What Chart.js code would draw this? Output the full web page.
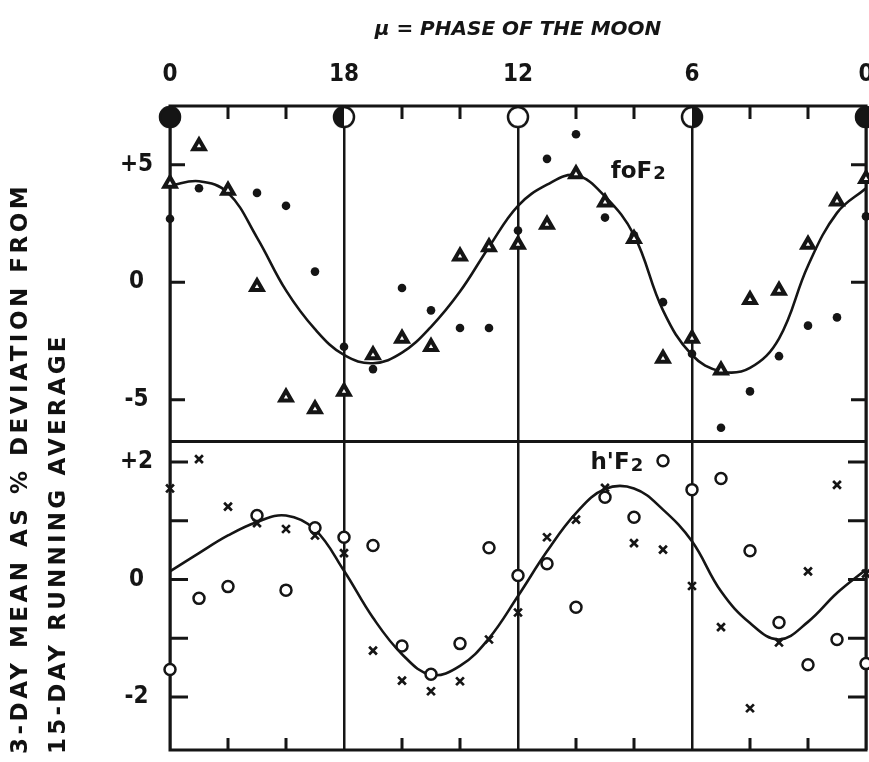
<!DOCTYPE html>
<html lang="en">
<head>
<meta charset="utf-8"/>
<title>foF2 and h'F2 against phase of the moon</title>
<script src="https://cdn.jsdelivr.net/npm/chart.js@4.4.1/dist/chart.umd.min.js"></script>
<style>
  html, body { margin: 0; padding: 0; background: #fff; }
  #wrap { position: relative; width: 869px; height: 762px; overflow: hidden; background: #fff; }
  #chart { position: absolute; left: 0; top: 0; }
  /* rotated axis caption, read bottom to top */
  .ylab {
    position: absolute;
    font-family: "DejaVu Sans", sans-serif;
    font-weight: bold;
    font-size: 23px;
    line-height: 1;
    color: #111;
    white-space: nowrap;
    transform-origin: left top;
    transform: rotate(-90deg);
  }
  #ylab1 { left: 8px; top: 754px; letter-spacing: 3.5px; }
  #ylab2 { left: 46px; top: 754px; letter-spacing: 3.2px; }
</style>
</head>
<body>
<div id="wrap">
  <canvas id="chart" width="890" height="762"></canvas>
  <div class="ylab" id="ylab1">3-DAY MEAN AS % DEVIATION FROM</div>
  <div class="ylab" id="ylab2">15-DAY RUNNING AVERAGE</div>
</div>
<script>
// position along the lunar cycle, left to right (labelled 0, 18, 12, 6, 0)
const phase = [0, 1, 2, 3, 4, 5, 6, 7, 8, 9, 10, 11, 12, 13, 14, 15, 16, 17, 18, 19, 20, 21, 22, 23, 24];
const phaseTicks = [0, 6, 12, 18, 24];
const phaseLabels = ['0', '18', '12', '6', '0'];
const minorPhase = [2, 4, 8, 10, 14, 16, 20, 22];
const moonPhase = ['new', 'first', 'full', 'last', 'new'];
const moonLevel = 7.03;

// foF2 (upper panel)
const foF2Curve = [4.1, 4.3, 3.8, 1.9, -0.35, -2.0, -3.1, -3.45, -3.0, -1.9, -0.4, 1.5, 3.25, 4.15, 4.55, 3.65, 2.0, -1.2, -3.1, -3.8, -3.65, -2.4, 0.7, 2.95, 4.0];
const foF2Tri = [4.2, 5.8, 3.9, -0.2, -4.9, -5.4, -4.65, -3.1, -2.4, -2.75, 1.1, 1.5, 1.6, 2.45, 4.6, 3.4, 1.85, -3.25, -2.4, -3.75, -0.75, -0.35, 1.6, 3.45, 4.4];
const foF2Dot = [2.7, 4.0, null, 3.8, 3.25, 0.45, -2.75, -3.7, -0.25, -1.2, -1.95, -1.95, 2.2, 5.25, 6.3, 2.75, 2.0, -0.85, -3.05, -6.2, -4.65, -3.15, -1.85, -1.5, 2.8];
const foF2Ticks = [-5, 0, 5];
const foF2TickLabels = ['-5', '0', '+5'];

// h'F2 (lower panel)
const hF2Curve = [0.14, 0.45, 0.75, 0.98, 1.09, 0.85, 0.15, -0.65, -1.27, -1.62, -1.47, -1.0, -0.28, 0.48, 1.13, 1.54, 1.55, 1.19, 0.65, -0.2, -0.74, -1.02, -0.72, -0.23, 0.17];
const hF2Cross = [1.55, 2.05, 1.24, 0.96, 0.86, 0.75, 0.45, -1.21, -1.72, -1.9, -1.73, -1.02, -0.56, 0.72, 1.02, 1.56, 0.62, 0.51, -0.11, -0.81, -2.19, -1.07, 0.14, 1.61, 0.1];
const hF2Ring = [-1.53, -0.32, -0.12, 1.09, -0.18, 0.88, 0.72, 0.58, -1.13, -1.61, -1.09, 0.54, 0.07, 0.27, -0.47, 1.4, 1.06, 2.02, 1.53, 1.72, 0.49, -0.73, -1.45, -1.02, -1.43];
const hF2Ticks = [-2, -1, 0, 1, 2];
const hF2TickLabels = ['-2', '', '0', '', '+2'];

const ink = '#151515';
const tickFont = { family: '"Liberation Sans Narrow", "DejaVu Sans Condensed", sans-serif', size: 24, weight: 'bold' };

function xy(values) {
  return phase.map((x, i) => ({ x: x, y: values[i] }));
}

// little moon discs hung under the top border
function moonIcon(kind) {
  const c = document.createElement('canvas');
  c.width = 26; c.height = 26;
  const g = c.getContext('2d');
  const r = 10;
  g.fillStyle = '#fff';
  g.beginPath(); g.arc(13, 13, r, 0, Math.PI * 2); g.fill();
  g.fillStyle = ink;
  if (kind === 'new') { g.beginPath(); g.arc(13, 13, r + 1, 0, Math.PI * 2); g.fill(); }
  if (kind === 'first') { g.beginPath(); g.arc(13, 13, r, Math.PI / 2, Math.PI * 1.5); g.closePath(); g.fill(); }
  if (kind === 'last') { g.beginPath(); g.arc(13, 13, r, -Math.PI / 2, Math.PI / 2); g.closePath(); g.fill(); }
  g.strokeStyle = ink; g.lineWidth = 2.5;
  g.beginPath(); g.arc(13, 13, r, 0, Math.PI * 2); g.stroke();
  return c;
}
const moonIcons = { new: moonIcon('new'), first: moonIcon('first'), full: moonIcon('full'), last: moonIcon('last') };

// box, panel divider and inward tick marks
const framePlugin = {
  id: 'frame',
  beforeDatasetsDraw(chart) {
    const { ctx, chartArea: a, scales } = chart;
    const x = scales.x, yT = scales.yTop, yB = scales.yBot;
    ctx.save();
    ctx.strokeStyle = ink;
    ctx.lineWidth = 3;
    ctx.strokeRect(a.left, a.top, a.right - a.left, a.bottom - a.top);
    ctx.beginPath();
    ctx.moveTo(a.left, yT.bottom); ctx.lineTo(a.right, yT.bottom);
    minorPhase.forEach(v => {
      const px = x.getPixelForValue(v);
      ctx.moveTo(px, a.top); ctx.lineTo(px, a.top + 13);
      ctx.moveTo(px, a.bottom); ctx.lineTo(px, a.bottom - 12);
    });
    [[yT, foF2Ticks, 15], [yB, hF2Ticks, 18]].forEach(([s, vals, len]) => {
      vals.forEach(v => {
        const py = s.getPixelForValue(v);
        ctx.moveTo(a.left, py); ctx.lineTo(a.left + len, py);
        ctx.moveTo(a.right, py); ctx.lineTo(a.right - len, py);
      });
    });
    ctx.stroke();
    ctx.restore();
  }
};

// curve names written inside the panels
const namePlugin = {
  id: 'names',
  afterDatasetsDraw(chart) {
    const { ctx, scales } = chart;
    const names = [
      { main: 'foF', sub: '2', y: scales.yTop, at: [15.2, 4.7] },
      { main: "h'F", sub: '2', y: scales.yBot, at: [14.5, 1.98] }
    ];
    ctx.save();
    ctx.fillStyle = ink;
    ctx.textBaseline = 'middle';
    ctx.textAlign = 'left';
    names.forEach(n => {
      const px = scales.x.getPixelForValue(n.at[0]);
      const py = n.y.getPixelForValue(n.at[1]);
      ctx.font = 'bold 23px "DejaVu Sans", sans-serif';
      ctx.fillText(n.main, px, py);
      const w = ctx.measureText(n.main).width;
      ctx.font = 'bold 18px "DejaVu Sans", sans-serif';
      ctx.fillText(n.sub, px + w + 1, py + 3);
    });
    ctx.restore();
  }
};

const yAxisCommon = {
  type: 'linear',
  position: 'left',
  stack: 'panels',
  grid: { display: false },
  border: { display: false },
  ticks: { color: ink, font: tickFont, padding: 9, crossAlign: 'center' },
  afterFit(s) { s.width = 170; s.paddingTop = 0; s.paddingBottom = 0; }
};

new Chart(document.getElementById('chart'), {
  type: 'scatter',
  data: {
    datasets: [
      { label: 'moon', data: phaseTicks.map(x => ({ x: x, y: moonLevel })), yAxisID: 'yTop',
        pointStyle: moonPhase.map(p => moonIcons[p]), pointRadius: 11, clip: false },
      { label: 'foF2 triangles', data: xy(foF2Tri), yAxisID: 'yTop', pointStyle: 'triangle',
        pointRadius: 6.5, borderWidth: 4, borderColor: ink, backgroundColor: '#fff', clip: false },
      { label: 'foF2 dots', data: xy(foF2Dot), yAxisID: 'yTop', pointStyle: 'circle',
        pointRadius: 4.3, borderWidth: 0, backgroundColor: ink, clip: false },
      { label: "h'F2 crosses", data: xy(hF2Cross), yAxisID: 'yBot', pointStyle: 'crossRot',
        pointRadius: 5.5, borderWidth: 2.7, borderColor: ink, clip: false },
      { label: "h'F2 rings", data: xy(hF2Ring), yAxisID: 'yBot', pointStyle: 'circle',
        pointRadius: 5.5, borderWidth: 2.5, borderColor: ink, backgroundColor: '#fff', clip: false },
      { label: 'foF2', data: xy(foF2Curve), yAxisID: 'yTop', showLine: true, pointRadius: 0,
        borderColor: ink, borderWidth: 2.6, tension: 0.4 },
      { label: "h'F2", data: xy(hF2Curve), yAxisID: 'yBot', showLine: true, pointRadius: 0,
        borderColor: ink, borderWidth: 2.6, tension: 0.4 }
    ]
  },
  options: {
    responsive: false,
    animation: false,
    events: [],
    devicePixelRatio: 1,
    layout: { padding: { top: 0, left: 0, right: 24, bottom: 9 } },
    plugins: { legend: { display: false }, tooltip: { enabled: false } },
    scales: {
      x: {
        type: 'linear',
        position: 'top',
        min: 0,
        max: 24,
        grid: { color: ink, lineWidth: 2.5, drawTicks: false },
        border: { display: false },
        afterBuildTicks(s) { s.ticks = phaseTicks.map(v => ({ value: v })); },
        ticks: {
          color: ink, font: tickFont, padding: 17, maxRotation: 0, autoSkip: false,
          callback: v => { const i = phaseTicks.indexOf(v); return i < 0 ? '' : phaseLabels[i]; }
        },
        title: {
          display: true,
          text: 'μ = PHASE OF THE MOON',
          color: ink,
          font: { family: '"DejaVu Sans", sans-serif', size: 20, weight: 'bold', style: 'italic' },
          padding: { top: 18, bottom: 0 }
        },
        afterFit(s) { s.height = 106; s.paddingLeft = 0; s.paddingRight = 0; }
      },
      yTop: Object.assign({}, yAxisCommon, {
        min: -6.78, max: 7.5, weight: 2, stackWeight: 337,
        afterBuildTicks(s) { s.ticks = foF2Ticks.map(v => ({ value: v })); },
        ticks: Object.assign({}, yAxisCommon.ticks, {
          callback: v => foF2TickLabels[foF2Ticks.indexOf(v)]
        })
      }),
      yBot: Object.assign({}, yAxisCommon, {
        min: -2.9, max: 2.35, weight: 1, stackWeight: 310,
        afterBuildTicks(s) { s.ticks = hF2Ticks.map(v => ({ value: v })); },
        ticks: Object.assign({}, yAxisCommon.ticks, {
          callback: v => hF2TickLabels[hF2Ticks.indexOf(v)]
        })
      })
    }
  },
  plugins: [framePlugin, namePlugin]
});
</script>
</body>
</html>
